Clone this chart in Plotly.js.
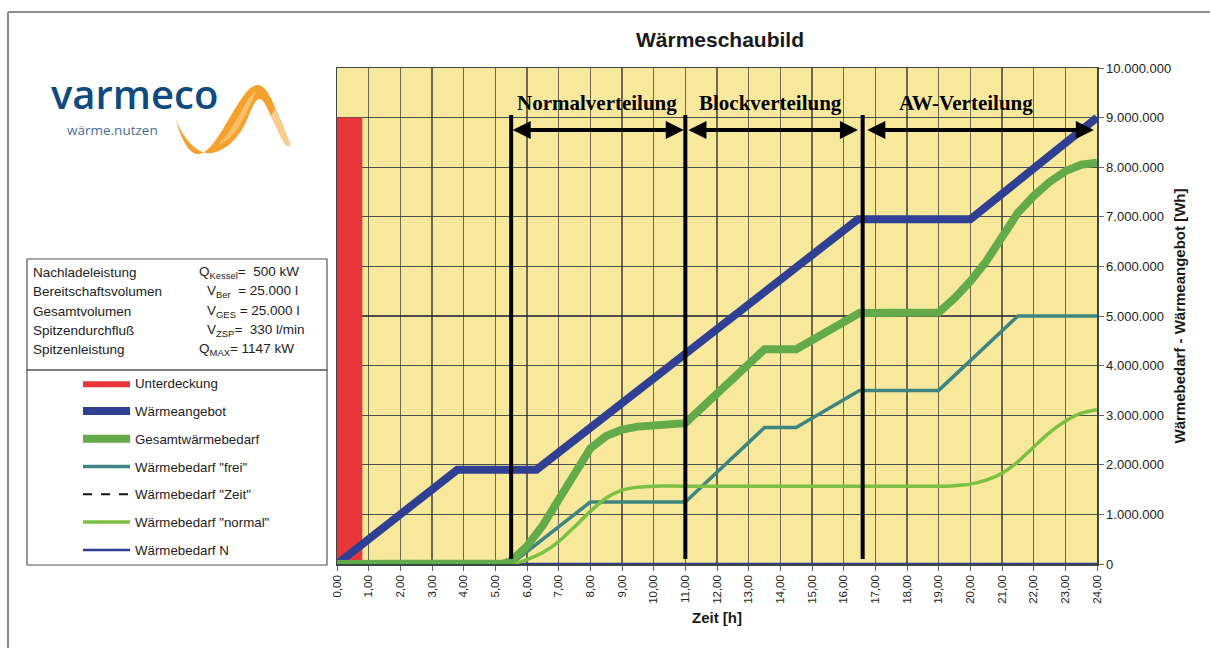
<!DOCTYPE html>
<html><head><meta charset="utf-8">
<script src="https://cdn.plot.ly/plotly-3.0.1.min.js"></script>
<style>html,body{margin:0;padding:0;background:#fff;}#chart{width:1210px;height:648px;}</style>
</head><body><div id="chart"></div>
<script>
// ---------- data ----------
const seriesNames = ["Unterdeckung","Wärmeangebot","Gesamtwärmebedarf","Wärmebedarf \"frei\"","Wärmebedarf \"Zeit\"","Wärmebedarf \"normal\"","Wärmebedarf N"];

const hoursUnterdeckung = [0, 0.8];
const unterdeckung = [9000000, 9000000];

const hoursAngebot = [0, 3.8, 6.3, 16.45, 20, 24];
const waermeangebot = [0, 1900000, 1900000, 6950000, 6950000, 9000000];

const hoursGesamt = [0, 5.0, 5.25, 5.5, 6, 6.5, 7, 7.5, 8, 8.5, 9, 9.5, 10, 11, 13.5, 14.5, 16.5, 19, 19.5, 20, 20.5, 21, 21.5, 22, 22.5, 23, 23.5, 24];
const gesamtwaermebedarf = [0, 0, 10000, 60000, 360000, 780000, 1280000, 1850000, 2330000, 2580000, 2710000, 2770000, 2800000, 2840000, 4330000, 4330000, 5060000, 5070000, 5360000, 5700000, 6100000, 6560000, 7080000, 7420000, 7700000, 7920000, 8050000, 8090000];

const hoursFrei = [0, 5.5, 8, 11, 13.5, 14.5, 16.5, 19, 21.5, 24];
const bedarfFrei = [0, 0, 1250000, 1250000, 2750000, 2750000, 3500000, 3500000, 5000000, 5000000];

const hoursZeit = [0, 24];
const bedarfZeit = [0, 0];

const hoursNormal = [0, 5.5, 6, 6.5, 7, 7.5, 8, 8.5, 9, 9.5, 10, 11, 19, 19.5, 20, 20.5, 21, 21.5, 22, 22.5, 23, 23.5, 24];
const bedarfNormal = [0, 0, 90000, 230000, 450000, 750000, 1060000, 1330000, 1490000, 1550000, 1570000, 1570000, 1570000, 1580000, 1610000, 1690000, 1830000, 2060000, 2360000, 2650000, 2880000, 3040000, 3110000];

const hoursN = [0, 24];
const bedarfN = [0, 0];

const phaseBoundaries = [5.5, 11, 16.6];
const phaseLabels = ["Normalverteilung", "Blockverteilung", "AW-Verteilung"];
const phaseLabelHours = [8.21, 13.7, 19.87];
const phaseArrowStart = [5.5, 11.05, 16.7];
const phaseArrowEnd = [10.95, 16.45, 23.9];

const xTicks = [0,1,2,3,4,5,6,7,8,9,10,11,12,13,14,15,16,17,18,19,20,21,22,23,24];

const infoLabels = ["Nachladeleistung","Bereitschaftsvolumen","Gesamtvolumen","Spitzendurchfluß","Spitzenleistung"];
const infoValues = ["Q<sub>Kessel</sub>=  500 kW","V<sub>Ber</sub>  = 25.000 l","V<sub>GES</sub> = 25.000 l","V<sub>ZSP</sub>=  330 l/min","Q<sub>MAX</sub>= 1147 kW"];

// ---------- helpers (pixel -> paper) ----------
const L=337, R=1097, T=68, B=564, W=R-L, H=B-T;
const px = x => (x-L)/W;
const py = y => (B-y)/H;
const pathPx = s => s.replace(/(-?\d+(?:\.\d+)?),(-?\d+(?:\.\d+)?)/g, (m,a,b)=> px(+a).toFixed(5)+','+py(+b).toFixed(5));

const FONT = 'Arial, "Liberation Sans", sans-serif';

// ---------- traces ----------
const traces = [];
traces.push({x:hoursUnterdeckung, y:unterdeckung, name:seriesNames[0], type:'scatter', mode:'lines',
  line:{width:0,color:'#e8363a'}, fill:'tozeroy', fillcolor:'#e8363a', legendrank:1, legendgroup:'g1'});
traces.push({x:hoursZeit, y:bedarfZeit, name:seriesNames[4], type:'scatter', mode:'lines',
  line:{width:2,color:'#111',dash:'dash'}, legendrank:5, legendgroup:'g5'});
traces.push({x:hoursN, y:bedarfN, name:seriesNames[6], type:'scatter', mode:'lines',
  line:{width:2.5,color:'#2e3c92'}, legendrank:7, legendgroup:'g7'});
traces.push({x:hoursFrei, y:bedarfFrei, name:seriesNames[3], type:'scatter', mode:'lines',
  line:{width:3.5,color:'#3d8580'}, legendrank:4, legendgroup:'g4'});
traces.push({x:hoursNormal, y:bedarfNormal, name:seriesNames[5], type:'scatter', mode:'lines',
  line:{width:3.5,color:'#7cc043',shape:'spline',smoothing:0.6}, legendrank:6, legendgroup:'g6'});
traces.push({x:hoursAngebot, y:waermeangebot, name:seriesNames[1], type:'scatter', mode:'lines',
  line:{width:8,color:'#2f3f93'}, legendrank:2, legendgroup:'g2'});
traces.push({x:hoursGesamt, y:gesamtwaermebedarf, name:seriesNames[2], type:'scatter', mode:'lines',
  line:{width:8,color:'#62aa4a'}, legendrank:3, legendgroup:'g3'});
phaseBoundaries.forEach((b,i)=>{
  traces.push({x:[b,b], y:[100000, 9050000], type:'scatter', mode:'lines', showlegend:false,
    line:{width:4,color:'#000'}, hoverinfo:'skip'});
});

// ---------- annotations ----------
const annotations = [];
phaseLabels.forEach((t,i)=>{
  annotations.push({x:phaseLabelHours[i], y:9290000, xref:'x', yref:'y', text:'<b>'+t+'</b>', showarrow:false,
    font:{family:'"Liberation Serif", "Times New Roman", serif', size:21, color:'#000'}, xanchor:'center', yanchor:'middle'});
  annotations.push({x:phaseArrowEnd[i], y:8750000, ax:phaseArrowStart[i], ay:8750000, xref:'x', yref:'y', axref:'x', ayref:'y',
    text:'', showarrow:true, arrowside:'end+start', arrowhead:2, arrowsize:0.9, arrowwidth:4, arrowcolor:'#000', standoff:0, startstandoff:0});
});
const rowY = [272, 291, 311, 330, 349];
infoLabels.forEach((t,i)=>{
  annotations.push({x:px(31), y:py(rowY[i]), xref:'paper', yref:'paper', text:t, showarrow:false, xanchor:'left', yanchor:'middle',
    font:{family:FONT, size:13.5, color:'#222'}});
  annotations.push({x:px(i===0||i===4?197:205), y:py(rowY[i]), xref:'paper', yref:'paper', text:infoValues[i], showarrow:false, xanchor:'left', yanchor:'middle',
    font:{family:FONT, size:13.5, color:'#222'}});
});
// logo
annotations.push({x:px(50), y:py(94), xref:'paper', yref:'paper', text:'varmeco', showarrow:false, xanchor:'left', yanchor:'middle', borderpad:0,
  font:{family:'"Open Sans", sans-serif', size:40, color:'#0d4a80', weight:600}});
annotations.push({x:px(66), y:py(130), xref:'paper', yref:'paper', text:'wärme.nutzen', showarrow:false, xanchor:'left', yanchor:'middle', borderpad:0,
  font:{family:'"Open Sans", sans-serif', size:13.5, color:'#4a6e9c'}});

// ---------- shapes ----------
const shapes = [
  {type:'line', xref:'paper', yref:'paper', x0:px(8), y0:py(12), x1:px(1215), y1:py(12), line:{color:'#8c8c8c', width:2}},
  {type:'line', xref:'paper', yref:'paper', x0:px(8), y0:py(12), x1:px(8), y1:py(660), line:{color:'#8c8c8c', width:2}},
  {type:'rect', xref:'paper', yref:'paper', x0:px(27), y0:py(259), x1:px(327), y1:py(370), line:{color:'#555', width:1.2}, fillcolor:'rgba(0,0,0,0)'},
  {type:'rect', xref:'paper', yref:'paper', x0:px(27), y0:py(370), x1:px(327), y1:py(565), line:{color:'#555', width:1.2}, fillcolor:'rgba(0,0,0,0)'},
  {type:'path', xref:'paper', yref:'paper', line:{width:0}, fillcolor:'#f4a12e',
    path: pathPx('M176,120 C180,136 188,153 197,154 C210,155 222,130 236,107 C244,94 250,86 257,85 C266,84 272,100 278,114 C283,126 287,136 290,143 C291,147 287,147 285,144 C280,136 276,126 270,114 C266,105 263,99 259,99 C255,100 251,110 247,120 C239,138 227,150 212,153 C198,155 184,140 176,120 Z')},
  {type:'path', xref:'paper', yref:'paper', line:{width:0}, fillcolor:'rgba(251,212,160,0.85)',
    path: pathPx('M275,108 C279,118 284,129 290,143 C291,147 287,147 285,144 C280,136 276,126 271,116 Z')},
  {type:'path', xref:'paper', yref:'paper', line:{width:0}, fillcolor:'rgba(252,200,125,0.75)',
    path: pathPx('M218,145 C228,135 235,122 243,108 C249,97 253,93 256,92 C252,101 247,112 240,125 C233,136 226,142 218,145 Z')}
];

const layout = {
  width:1210, height:648,
  margin:{l:L, r:1210-R, t:T, b:648-B, pad:0},
  paper_bgcolor:'#ffffff', plot_bgcolor:'#f7e89c',
  separators:',.',
  font:{family:FONT, color:'#222'},
  title:{text:'<b>Wärmeschaubild</b>', font:{family:FONT, size:21, color:'#1a1a1a'}, xref:'paper', x:px(720), xanchor:'center', yref:'container', y:1-40/648, yanchor:'middle'},
  xaxis:{range:[0,24], tickvals:xTicks, tickformat:'.2f', tickangle:-90, ticks:'outside', ticklen:5, tickcolor:'#666',
    showgrid:true, gridcolor:'rgba(55,55,50,0.72)', gridwidth:1.2, zeroline:false, layer:'below traces',
    showline:true, linecolor:'#3c4848', linewidth:1.5, mirror:true,
    tickfont:{family:FONT, size:11.5, color:'#222'},
    title:{text:'<b>Zeit [h]</b>', font:{family:FONT, size:15, color:'#1a1a1a'}, standoff:9}},
  yaxis:{range:[0,10000000], dtick:1000000, tick0:0, tickformat:',.0f', side:'right', ticks:'outside', ticklen:5, tickcolor:'#666',
    showgrid:true, gridcolor:'rgba(30,40,55,0.8)', gridwidth:1.2, zeroline:false, layer:'below traces',
    showline:true, linecolor:'#3c4848', linewidth:1.5, mirror:true,
    tickfont:{family:FONT, size:13, color:'#222'},
    title:{text:'<b>Wärmebedarf - Wärmeangebot [Wh]</b>', font:{family:FONT, size:15, color:'#1a1a1a'}, standoff:4}},
  showlegend:true,
  legend:{x:px(78), y:py(368), xanchor:'left', yanchor:'top', xref:'paper', yref:'paper', bgcolor:'rgba(0,0,0,0)', borderwidth:0,
    font:{family:FONT, size:13.3, color:'#222'}, traceorder:'grouped', tracegroupgap:7.5, itemwidth:47, itemclick:false, itemdoubleclick:false},
  annotations:annotations,
  shapes:shapes,
  hovermode:false
};

Plotly.newPlot('chart', traces, layout, {staticPlot:true, displayModeBar:false});
</script></body></html>
